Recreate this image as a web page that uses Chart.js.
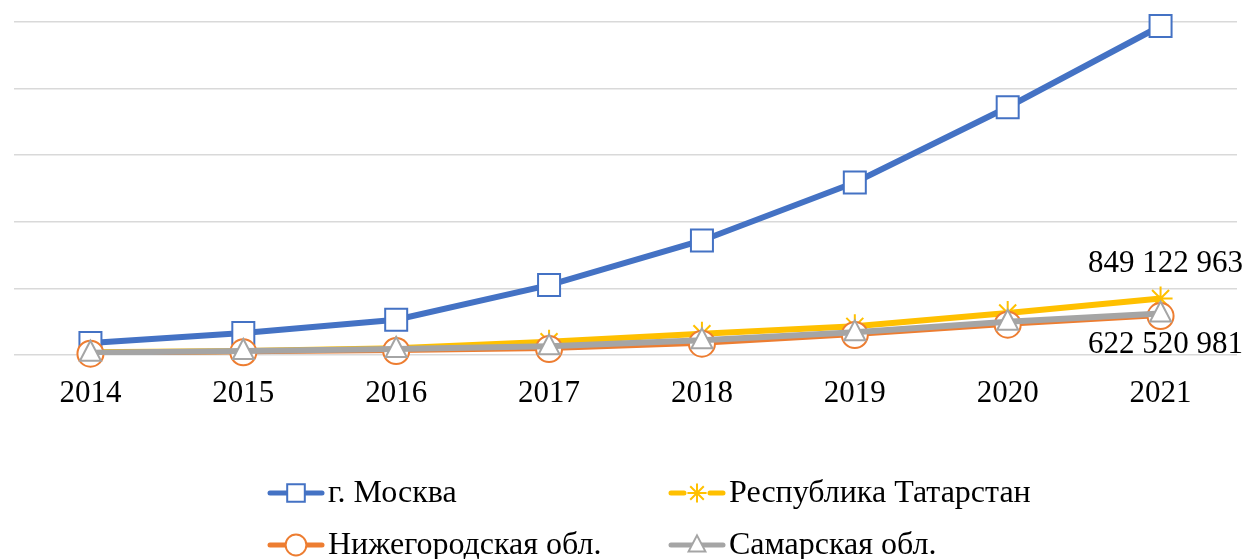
<!DOCTYPE html>
<html>
<head>
<meta charset="utf-8">
<script src="https://cdn.jsdelivr.net/npm/chart.js@4/dist/chart.umd.min.js"></script>
<style>
  html, body { margin: 0; padding: 0; background: #fff; }
  #wrap { width: 1253px; height: 559px; }
</style>
</head>
<body>
<div id="wrap"><canvas id="chart" width="1253" height="559"></canvas></div>
<script>
// Data
const years = ['2014', '2015', '2016', '2017', '2018', '2019', '2020', '2021'];
const moscow = [180e6, 330e6, 530e6, 1050e6, 1720e6, 2590e6, 3720e6, 4940e6];
const tatarstan = [40e6, 60e6, 100e6, 200e6, 320e6, 430e6, 630e6, 849122963];
const nizhny = [20e6, 40e6, 60e6, 90e6, 170e6, 300e6, 455e6, 585e6];
const samara = [35e6, 60e6, 90e6, 130e6, 220e6, 340e6, 500e6, 622520981];
const seriesNames = ['г. Москва', 'Республика Татарстан', 'Нижегородская обл.', 'Самарская обл.'];

const FONT = "'Liberation Serif', 'Times New Roman', serif";

// Helper: draw a marker like the Excel ones (s = scale)
function drawMarker(ctx, style, x, y, color, s = 1) {
  ctx.save();
  ctx.strokeStyle = color;
  ctx.fillStyle = '#fff';
  ctx.lineWidth = 2;
  ctx.beginPath();
  if (style === 'rect') {
    ctx.rect(x - 11 * s, y - 11 * s, 22 * s, 22 * s);
    ctx.fill(); ctx.stroke();
  } else if (style === 'circle') {
    ctx.arc(x, y, 13 * s, 0, Math.PI * 2);
    ctx.fill(); ctx.stroke();
  } else if (style === 'triangle') {
    ctx.moveTo(x, y - 12 * s);
    ctx.lineTo(x + 10.5 * s, y + 8 * s);
    ctx.lineTo(x - 10.5 * s, y + 8 * s);
    ctx.closePath();
    ctx.fill(); ctx.stroke();
  } else if (style === 'star') {
    const r = 12 * s;
    for (let a = 0; a < 8; a++) {
      const t = a * Math.PI / 4;
      ctx.moveTo(x, y);
      ctx.lineTo(x + r * Math.cos(t), y + r * Math.sin(t));
    }
    ctx.stroke();
  }
  ctx.restore();
}

// Legend plugin (line + marker + label, 2 columns)
const lineLegend = {
  id: 'lineLegend',
  afterDraw(chart) {
    const ctx = chart.ctx;
    const cols = [268, 669];
    const rows = [493, 545];
    chart.data.datasets.forEach((ds, i) => {
      const x = cols[i % 2];
      const y = rows[Math.floor(i / 2)];
      ctx.save();
      ctx.strokeStyle = ds.borderColor;
      ctx.lineWidth = 5;
      ctx.lineCap = 'round';
      ctx.beginPath();
      if (ds.marker === 'star') {
        ctx.moveTo(x + 2, y); ctx.lineTo(x + 15, y);
        ctx.moveTo(x + 41, y); ctx.lineTo(x + 54, y);
      } else {
        ctx.moveTo(x + 2, y);
        ctx.lineTo(x + 54, y);
      }
      ctx.stroke();
      ctx.restore();
      drawMarker(ctx, ds.marker, x + 28, y, ds.markerColor, 0.8);
      ctx.save();
      ctx.fillStyle = '#000';
      ctx.font = '32px ' + FONT;
      ctx.textAlign = 'left';
      ctx.textBaseline = 'middle';
      ctx.fillText(ds.label, x + 60, y + 1);
      ctx.restore();
    });
  }
};

// Custom markers drawn on top of the lines
const markerPlugin = {
  id: 'markers',
  afterDatasetDraw(chart, args) {
    const ds = chart.data.datasets[args.index];
    args.meta.data.forEach(pt => drawMarker(chart.ctx, ds.marker, pt.x, pt.y, ds.markerColor));
  }
};

// Value labels on the last point
const endLabels = {
  id: 'endLabels',
  afterDraw(chart) {
    const ctx = chart.ctx;
    chart.data.datasets.forEach((ds, i) => {
      if (!ds.endLabel) return;
      const meta = chart.getDatasetMeta(i);
      const pt = meta.data[meta.data.length - 1];
      const v = ds.data[ds.data.length - 1];
      const txt = Math.round(v).toString().replace(/\B(?=(\d{3})+(?!\d))/g, ' ');
      ctx.save();
      ctx.fillStyle = '#000';
      ctx.font = '31px ' + FONT;
      ctx.textAlign = 'right';
      ctx.textBaseline = 'middle';
      ctx.fillText(txt, 1243, pt.y + ds.endLabel);
      ctx.restore();
    });
  }
};

new Chart(document.getElementById('chart'), {
  type: 'line',
  data: {
    labels: years,
    datasets: [
      {
        label: seriesNames[0], data: moscow,
        borderColor: '#4472C4', markerColor: '#4472C4', marker: 'rect',
        borderWidth: 6, pointRadius: 0, order: 3
      },
      {
        label: seriesNames[1], data: tatarstan,
        borderColor: '#FFC000', markerColor: '#FFC000', marker: 'star',
        borderWidth: 6, pointRadius: 0, order: 2, endLabel: -35
      },
      {
        label: seriesNames[2], data: nizhny,
        borderColor: '#ED7D31', markerColor: '#ED7D31', marker: 'circle',
        borderWidth: 4, pointRadius: 0, order: 1
      },
      {
        label: seriesNames[3], data: samara,
        borderColor: '#A5A5A5', markerColor: '#A5A5A5', marker: 'triangle',
        borderWidth: 6, pointRadius: 0, order: 0, endLabel: 31
      }
    ]
  },
  options: {
    responsive: false,
    animation: false,
    layout: { padding: { left: 14, right: 16, top: 22, bottom: 0 } },
    plugins: {
      legend: { display: false },
      tooltip: { enabled: false }
    },
    scales: {
      x: {
        offset: true,
        grid: { display: false, drawTicks: false },
        border: { display: false },
        ticks: { color: '#000', font: { family: FONT, size: 31 }, padding: 20, maxRotation: 0 },
        afterFit: scale => { scale.height = 204; }
      },
      y: {
        min: 0, max: 5e9,
        ticks: { display: false, stepSize: 1e9 },
        grid: { color: '#d9d9d9', lineWidth: 1.5, drawTicks: false },
        border: { display: false }
      }
    }
  },
  plugins: [markerPlugin, endLabels, lineLegend]
});
</script>
</body>
</html>
